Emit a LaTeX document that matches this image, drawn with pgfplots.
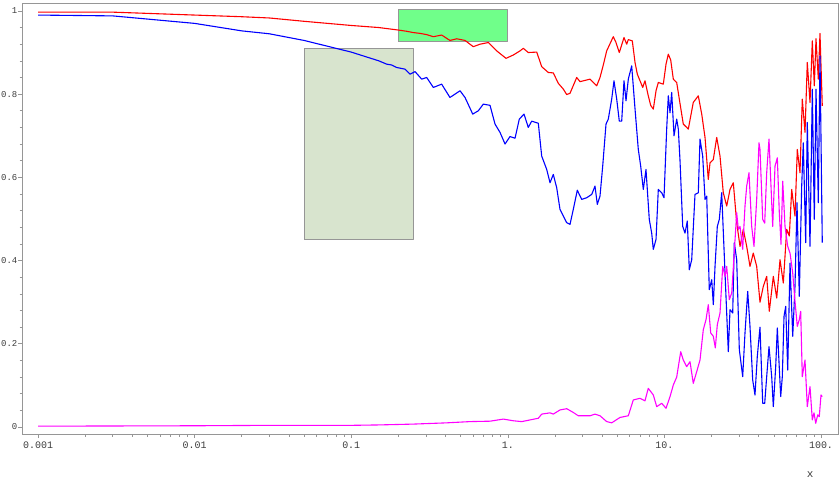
\documentclass[border=0pt]{standalone}
\usepackage{fontspec}
\setmainfont{Liberation Mono}
\usepackage{pgfplots}
\pgfplotsset{compat=1.18}
\definecolor{axgray}{RGB}{150,150,150}
\definecolor{txtgray}{RGB}{60,60,60}
\definecolor{boxgreen}{RGB}{112,255,138}
\definecolor{boxsage}{RGB}{216,228,206}
\definecolor{cred}{RGB}{255,0,0}
\definecolor{cblue}{RGB}{0,0,255}
\definecolor{cmag}{RGB}{255,0,255}
\begin{document}
\begin{tikzpicture}
\begin{axis}[
  scale only axis,
  width=816bp, height=431bp,
  xmode=log,
  xmin=7.9e-4, xmax=128.4,
  ymin=-0.0168, ymax=1.019,
  axis line style={axgray, line width=0.8bp},
  tick style={axgray, line width=0.6bp},
  tick align=outside,
  xtick pos=bottom, ytick pos=left,
  major tick length=4bp, minor tick length=2.5bp,
  xtick={0.001,0.01,0.1,1,10,100},
  xticklabels={0.001,0.01,0.1,1.,10.,100.},
  minor xtick={0.002,0.003,0.004,0.005,0.006,0.007,0.008,0.009,
    0.02,0.03,0.04,0.05,0.06,0.07,0.08,0.09,
    0.2,0.3,0.4,0.5,0.6,0.7,0.8,0.9,
    2,3,4,5,6,7,8,9,20,30,40,50,60,70,80,90},
  ytick={0,0.2,0.4,0.6,0.8,1},
  yticklabels={0,0.2,0.4,0.6,0.8,1},
  minor ytick={0.04,0.08,0.12,0.16,0.24,0.28,0.32,0.36,0.44,0.48,0.52,0.56,
    0.64,0.68,0.72,0.76,0.84,0.88,0.92,0.96},
  xticklabel style={font=\fontsize{10}{12}\selectfont, text=txtgray},
  yticklabel style={font=\fontsize{9}{11}\selectfont, text=txtgray, inner sep=0.5bp},
  xlabel={x},
  xlabel style={at={(rel axis cs:0.966,0)}, anchor=center, yshift=-41bp,
    font=\fontsize{11}{12}\selectfont, text=txtgray},
  every axis plot/.append style={line width=1.1bp, line join=round, mark=none},
]
% shaded boxes
\addplot[fill=boxsage, draw=axgray, line width=0.8bp] coordinates {
  (0.05,0.452) (0.25,0.452) (0.25,0.910) (0.05,0.910) (0.05,0.452)};
\addplot[fill=boxgreen, draw=axgray, line width=0.8bp] coordinates {
  (0.2,0.927) (1,0.927) (1,1.003) (0.2,1.003) (0.2,0.927)};

% red curve
\addplot[color=cred] coordinates {
(0.001,0.997) (0.003,0.997) (0.01,0.990) (0.02,0.986) (0.03,0.983) (0.05,0.975)
(0.1,0.965) (0.15,0.960) (0.200,0.954) (0.2262,0.951) (0.2481,0.948) (0.275,0.946)
(0.3034,0.943) (0.3344,0.938) (0.378,0.942) (0.427,0.929) (0.472,0.933) (0.533,0.929)
(0.602,0.914) (0.665,0.920) (0.751,0.924) (0.849,0.904) (0.974,0.886) (1.084,0.894)
(1.197,0.904) (1.256,0.910) (1.351,0.900) (1.530,0.901) (1.646,0.866) (1.814,0.852)
(1.952,0.851) (2.101,0.826) (2.262,0.812) (2.377,0.799) (2.496,0.802) (2.754,0.840)
(2.891,0.830) (3.349,0.836) (3.696,0.820) (3.880,0.840) (4.072,0.870) (4.280,0.904)
(4.716,0.938) (4.908,0.924) (5.152,0.900) (5.521,0.936) (5.743,0.920) (5.882,0.931)
(6.237,0.928) (6.493,0.876) (6.714,0.848) (7.057,0.828) (7.267,0.816) (7.517,0.832)
(7.889,0.796) (8.172,0.773) (8.494,0.764) (8.840,0.808) (9.143,0.828) (9.840,0.824)
(10.24,0.872) (10.59,0.896) (10.97,0.882) (11.40,0.836) (11.98,0.828) (12.45,0.788)
(13.20,0.728) (13.88,0.720) (14.21,0.716) (15.29,0.780) (16.46,0.796) (17.31,0.752)
(18.17,0.696) (19.07,0.595) (19.56,0.635) (20.53,0.643) (21.58,0.696) (22.65,0.651)
(23.77,0.563) (25.00,0.531) (26.24,0.571) (27.54,0.587) (28.95,0.491) (30.40,0.434)
(31.91,0.475) (33.54,0.434) (35.20,0.386) (36.95,0.418) (38.85,0.386) (40.78,0.300)
(42.81,0.338) (45.00,0.362) (46.76,0.278) (49.60,0.362) (52.14,0.310) (54.74,0.402)
(57.46,0.346) (60.40,0.475) (62.76,0.459) (65.01,0.571) (68.23,0.507) (70.58,0.667)
(73.43,0.611) (75.96,0.788) (79.05,0.708) (81.75,0.876) (85.08,0.780) (88.01,0.928)
(90.62,0.820) (92.92,0.933) (96.11,0.836) (98.53,0.946) (101.9,0.772)
};

% blue curve
\addplot[color=cblue] coordinates {
(0.001,0.990) (0.003,0.988) (0.01,0.970) (0.02,0.952) (0.03,0.945) (0.05,0.929)
(0.1,0.901) (0.15,0.880) (0.1685,0.872) (0.1814,0.870) (0.1952,0.864) (0.2206,0.860)
(0.2374,0.848) (0.2556,0.854) (0.2819,0.836) (0.3034,0.840) (0.3344,0.816) (0.378,0.824)
(0.427,0.792) (0.4953,0.808) (0.533,0.792) (0.5969,0.752) (0.6482,0.760) (0.6977,0.776)
(0.770,0.773) (0.8285,0.728) (0.8919,0.708) (0.9600,0.680) (1.033,0.698) (1.112,0.694)
(1.184,0.740) (1.269,0.752) (1.351,0.720) (1.421,0.735) (1.566,0.730) (1.646,0.651)
(1.772,0.619) (1.860,0.587) (1.952,0.607) (2.052,0.575) (2.154,0.523) (2.262,0.507)
(2.377,0.491) (2.496,0.487) (2.619,0.523) (2.778,0.569) (2.964,0.547) (3.190,0.551)
(3.434,0.559) (3.604,0.579) (3.728,0.535) (3.880,0.555) (4.036,0.627) (4.237,0.728)
(4.383,0.740) (4.607,0.788) (4.765,0.832) (4.959,0.788) (5.152,0.735) (5.337,0.735)
(5.521,0.832) (5.686,0.784) (5.882,0.836) (6.182,0.868) (6.493,0.764) (6.812,0.667)
(7.057,0.627) (7.333,0.571) (7.629,0.619) (8.006,0.499) (8.294,0.466) (8.494,0.427)
(8.840,0.451) (9.143,0.571) (9.612,0.563) (9.942,0.551) (10.34,0.716) (10.59,0.796)
(10.86,0.755) (11.13,0.804) (11.52,0.700) (11.98,0.740) (12.27,0.716) (12.58,0.640)
(13.09,0.482) (13.54,0.466) (14.00,0.495) (14.42,0.378) (14.94,0.402) (15.68,0.559)
(16.46,0.563) (16.88,0.692) (17.56,0.651) (18.17,0.547) (18.63,0.555) (19.35,0.330)
(20.05,0.354) (20.53,0.294) (21.05,0.386) (21.77,0.482) (22.42,0.499) (23.22,0.563)
(24.38,0.370) (25.59,0.181) (26.24,0.282) (27.30,0.274) (27.95,0.443) (28.95,0.402)
(30.09,0.186) (31.62,0.121) (32.71,0.226) (34.04,0.326) (35.20,0.242) (36.63,0.113)
(37.89,0.077) (39.19,0.169) (40.78,0.240) (42.43,0.057) (43.70,0.057) (45.00,0.121)
(46.55,0.193) (48.44,0.121) (49.60,0.049) (51.37,0.145) (52.61,0.238) (55.30,0.073)
(56.62,0.121) (58.06,0.266) (59.52,0.290) (61.30,0.137) (63.41,0.394) (65.98,0.218)
(68.23,0.338) (70.27,0.539) (72.68,0.314) (75.30,0.579) (77.09,0.683) (79.86,0.443)
(81.75,0.732) (85.08,0.434) (88.01,0.812) (90.62,0.499) (92.92,0.812) (96.11,0.539)
(98.53,0.892) (101.9,0.443)
};

% magenta curve
\addplot[color=cmag] coordinates {
(0.001,0.002) (0.01,0.003) (0.03,0.004) (0.1,0.004) (0.1505,0.005) (0.249,0.007)
(0.407,0.010) (0.5735,0.013) (0.770,0.014) (0.936,0.019) (1.084,0.015) (1.227,0.013)
(1.386,0.017) (1.566,0.021) (1.646,0.031) (1.860,0.034) (1.952,0.031) (2.154,0.041)
(2.377,0.044) (2.619,0.035) (2.819,0.027) (3.349,0.027) (3.604,0.031) (3.880,0.027)
(4.280,0.013) (4.607,0.010) (5.206,0.023) (5.882,0.027) (6.329,0.065) (6.985,0.069)
(7.517,0.063) (7.889,0.093) (8.494,0.077) (8.930,0.049) (9.612,0.057) (10.24,0.045)
(10.86,0.073) (11.40,0.101) (11.98,0.120) (12.71,0.181) (13.20,0.161) (13.88,0.145)
(14.57,0.157) (15.29,0.105) (16.08,0.133) (16.88,0.161) (17.72,0.234) (18.44,0.258)
(19.07,0.294) (19.76,0.226) (20.53,0.218) (21.14,0.190) (21.77,0.246) (22.65,0.274)
(23.57,0.386) (24.38,0.362) (25.00,0.386) (25.97,0.306) (26.90,0.322) (27.83,0.410)
(28.95,0.515) (29.65,0.475) (30.40,0.482) (31.62,0.427) (32.71,0.531) (33.54,0.579)
(34.69,0.611) (36.09,0.482) (37.34,0.434) (38.85,0.547) (40.18,0.683) (40.78,0.667)
(42.43,0.499) (43.70,0.490) (45.00,0.611) (46.55,0.692) (47.94,0.579) (49.16,0.482)
(50.85,0.627) (52.61,0.647) (54.17,0.515) (55.55,0.439) (56.96,0.591) (58.92,0.482)
(61.30,0.434) (63.41,0.418) (65.98,0.370) (68.23,0.302) (70.58,0.242) (72.68,0.258)
(74.19,0.278) (75.96,0.121) (79.05,0.161) (81.75,0.049) (85.08,0.097) (88.01,0.017)
(90.23,0.034) (92.51,0.009) (95.27,0.029) (97.52,0.025) (100.0,0.077) (101.9,0.073)
};
\end{axis}
\pgfresetboundingbox
\path[use as bounding box] ([shift={(-22bp,-50bp)}]current axis.south west)
  rectangle ([shift={(2bp,3bp)}]current axis.north east);
\end{tikzpicture}
\end{document}
